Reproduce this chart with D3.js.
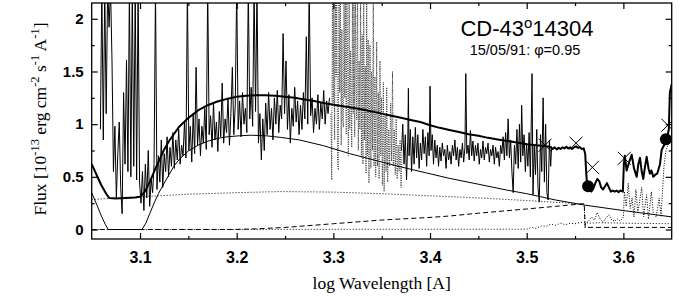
<!DOCTYPE html>
<html><head><meta charset="utf-8">
<script src="https://cdn.jsdelivr.net/npm/d3@7"></script>
<style>body{margin:0;background:#fff}</style>
</head><body>
<svg id="c" width="693" height="297"></svg>
<script>
// ---------- data (log wavelength, flux 1e-13) ----------
const xTicks = [3.1, 3.2, 3.3, 3.4, 3.5, 3.6];
const xMinor = [3.15, 3.25, 3.35, 3.45, 3.55];
const yTicks = [0, 0.5, 1, 1.5, 2];
const yMinor = [0.25, 0.75, 1.25, 1.75];
const titleMain = "CD-43";
const titleSup = "o";
const titleEnd = "14304";
const subTitle = "15/05/91: \u03c6=0.95";

// observed spectrum, short-wavelength part (solid)
const obsShort = [[3.0590,0.95],[3.0605,2.3],[3.0620,0.85],[3.0635,2.3],[3.0650,1.10],[3.0665,2.3],[3.0680,1.92],[3.0695,2.3],[3.0710,1.60],[3.0725,0.55],
[3.0740,0.98],[3.0755,0.30],[3.0770,0.72],[3.0785,1.02],[3.0800,0.40],[3.0815,0.15],[3.0830,1.30],[3.0845,0.62],[3.0860,1.61],[3.0875,0.55],
[3.0890,2.3],[3.0905,0.50],[3.0920,2.3],[3.0935,0.60],[3.0950,2.3],[3.0965,0.47],[3.0980,2.3],[3.0995,0.45],[3.1010,0.25],[3.1025,0.55],
[3.1040,0.18],[3.1055,0.62],[3.1070,0.30],[3.1085,0.75],[3.1100,0.22],[3.1115,0.48],[3.1130,0.35],[3.1145,0.62],[3.1160,2.3],[3.1175,0.38],
[3.1190,0.70],[3.1205,0.45],[3.1220,0.85],[3.1235,0.40],[3.1250,0.72],[3.1265,0.55],[3.1280,0.88],[3.1295,0.50],[3.1310,0.78],[3.1325,0.60],
[3.1340,0.92],[3.1355,0.58],[3.1370,0.85],[3.1385,0.66],[3.1400,0.95],[3.1415,0.62],[3.1430,0.80],[3.1445,0.70],[3.1460,1.02],[3.1475,0.68],
[3.1490,2.3],[3.1505,0.75],[3.1520,0.98],[3.1535,0.64],[3.1550,1.10],[3.1565,0.72],[3.1580,1.54],[3.1595,0.80],[3.1610,1.05],[3.1625,0.70],
[3.1640,0.98],[3.1655,0.82],[3.1670,1.15],[3.1685,0.76],[3.1700,2.3],[3.1715,0.90],[3.1730,1.08],[3.1745,0.78],[3.1760,1.20],[3.1775,0.85],
[3.1790,1.02],[3.1805,0.74],[3.1820,1.12],[3.1835,0.88],[3.1850,1.39],[3.1865,0.82],[3.1880,1.05],[3.1895,0.92],[3.1910,1.25],[3.1925,0.80],
[3.1940,1.10],[3.1955,1.54],[3.1970,0.90],[3.1985,1.18],[3.2000,2.3],[3.2015,0.95],[3.2030,1.22],[3.2045,0.88],[3.2060,1.30],[3.2075,1.00],
[3.2090,1.15],[3.2105,0.92],[3.2120,2.3],[3.2135,1.05],[3.2150,1.35],[3.2165,0.98],[3.2180,2.3],[3.2195,1.12],[3.2210,2.3],[3.2225,0.82],
[3.2240,1.10],[3.2255,0.66],[3.2270,1.05],[3.2285,0.75],[3.2300,1.20],[3.2315,0.90],[3.2330,1.30],[3.2345,0.95],[3.2360,1.15],[3.2375,0.85],
[3.2390,1.25],[3.2405,1.00],[3.2420,1.32],[3.2435,0.92],[3.2450,1.18],[3.2465,1.05],[3.2480,1.86],[3.2495,1.10],[3.2510,1.60],[3.2525,0.95],
[3.2540,1.28],[3.2555,0.82],[3.2570,1.15],[3.2585,0.98],[3.2600,1.35],[3.2615,1.02],[3.2630,1.22],[3.2645,0.90],[3.2660,1.18],[3.2675,0.95],
[3.2690,1.30],[3.2705,1.05],[3.2720,1.83],[3.2735,1.00],[3.2750,2.3],[3.2765,1.08],[3.2780,1.25],[3.2795,0.92],[3.2810,1.15],[3.2825,1.00],
[3.2840,1.28],[3.2855,0.95],[3.2870,1.20],[3.2885,1.05],[3.2900,1.32],[3.2915,1.00],[3.2930,1.22],[3.2945,1.10],[3.2960,1.25]];

// observed spectrum, overlap region (dotted)
const obsOverlap = [[3.2975,1.10],[3.2983,0.47],[3.2990,2.3],[3.2998,1.20],[3.3005,2.3],[3.3013,0.85],[3.3020,2.3],[3.3028,1.45],[3.3035,2.3],[3.3043,0.65],
[3.3051,0.565],[3.3058,2.3],[3.3066,1.30],[3.3073,2.3],[3.3081,0.80],[3.3088,1.90],[3.3096,1.05],[3.3103,0.97],[3.3110,2.3],[3.3118,1.25],
[3.3125,2.3],[3.3133,0.90],[3.3140,2.3],[3.3148,1.50],[3.3155,0.70],[3.3163,2.3],[3.3170,0.95],[3.3178,1.70],[3.3190,0.78],[3.3198,2.3],
[3.3206,1.10],[3.3213,2.3],[3.3221,0.88],[3.3228,2.3],[3.3236,1.40],[3.3241,1.04],[3.3250,2.3],[3.3258,0.75],[3.3266,1.60],[3.3274,0.95],
[3.3282,2.3],[3.3290,0.68],[3.3298,1.85],[3.3306,0.62],[3.3314,2.3],[3.3322,0.85],[3.3330,1.55],[3.3338,0.53],[3.3345,2.3],[3.3352,0.70],
[3.3360,1.80],[3.3368,0.44],[3.3379,1.75],[3.3388,0.58],[3.3396,1.50],[3.3405,0.75],[3.3413,2.3],[3.3421,0.60],[3.3430,1.45],[3.3438,0.50],
[3.3448,1.78],[3.3456,0.60],[3.3465,1.30],[3.3473,0.48],[3.3482,1.60],[3.3490,0.70],[3.3498,1.25],[3.3507,0.42],[3.3517,1.40],[3.3525,0.36],
[3.3535,1.10],[3.3545,0.55],[3.3552,1.35],[3.3562,0.45],[3.3572,0.95],[3.3582,0.60],[3.3592,1.20],[3.3602,0.65],[3.3612,1.50],[3.3620,0.60],
[3.3630,0.95],[3.3640,0.52],[3.3650,1.05],[3.3660,0.48],[3.3670,0.80],[3.3680,0.55],[3.3690,0.85],[3.3700,0.40],[3.3710,0.75]];

// observed spectrum, long-wavelength part (solid)
const obsLong = [[3.3705,0.75],[3.3718,1.00],[3.3731,0.62],[3.3744,0.90],[3.3757,0.47],[3.3770,0.85],[3.3776,1.34],[3.3783,0.70],[3.3796,0.95],[3.3809,0.55],
[3.3822,0.88],[3.3835,0.62],[3.3848,0.97],[3.3861,0.68],[3.3874,0.90],[3.3887,0.58],[3.3900,0.82],[3.3913,0.66],[3.3926,0.95],[3.3939,0.72],
[3.3952,0.88],[3.3965,0.60],[3.3978,0.92],[3.3991,0.70],[3.4000,1.36],[3.4010,0.75],[3.4023,0.90],[3.4036,0.62],[3.4049,0.85],[3.4062,0.68],
[3.4075,0.80],[3.4088,0.60],[3.4101,0.78],[3.4114,0.65],[3.4127,0.82],[3.4140,0.70],[3.4153,0.76],[3.4166,0.58],[3.4179,0.80],[3.4192,0.66],
[3.4205,0.74],[3.4218,0.62],[3.4231,0.80],[3.4244,0.70],[3.4257,0.85],[3.4270,0.66],[3.4283,0.78],[3.4296,0.60],[3.4309,0.76],[3.4322,0.68],
[3.4335,0.82],[3.4348,0.64],[3.4361,0.78],[3.4370,1.48],[3.4380,0.72],[3.4393,0.80],[3.4405,0.66],[3.4418,0.94],[3.4431,0.70],[3.4444,0.84],
[3.4457,0.65],[3.4470,0.80],[3.4483,0.70],[3.4496,0.82],[3.4509,0.62],[3.4522,0.76],[3.4535,0.68],[3.4548,0.84],[3.4561,0.66],[3.4574,0.78],
[3.4587,0.72],[3.4600,0.82],[3.4613,0.64],[3.4626,0.76],[3.4639,0.70],[3.4652,0.80],[3.4665,0.62],[3.4678,0.78],[3.4691,0.68],[3.4704,0.74],
[3.4717,0.60],[3.4730,0.80],[3.4743,0.72],[3.4756,0.88],[3.4769,0.66],[3.4782,0.92],[3.4795,0.70],[3.4808,1.05],[3.4821,0.68],[3.4834,0.85],
[3.4847,0.55],[3.4860,0.35],[3.4873,0.80],[3.4886,0.62],[3.4899,0.95],[3.4912,0.58],[3.4925,1.00],[3.4938,0.64],[3.4948,1.18],[3.4960,0.70],
[3.4973,0.90],[3.4986,0.55],[3.4999,0.82],[3.5012,0.60],[3.5025,0.92],[3.5038,0.50],[3.5055,1.48],[3.5065,0.33],[3.5078,0.80],[3.5091,0.52],
[3.5104,0.95],[3.5117,0.40],[3.5130,0.26],[3.5143,0.90],[3.5156,0.55],[3.5170,1.25],[3.5183,0.45],[3.5196,1.00],[3.5209,0.35],[3.5222,0.28],
[3.5235,0.85],[3.5248,0.60],[3.5258,0.79]];

// total model (thick)
const modelTotal = [[3.050,0.62],[3.055,0.52],[3.060,0.42],[3.065,0.34],[3.068,0.30],[3.075,0.295],[3.085,0.30],[3.095,0.305],[3.100,0.31],[3.105,0.36],
[3.110,0.45],[3.115,0.56],[3.120,0.66],[3.125,0.76],[3.130,0.84],[3.140,0.97],[3.150,1.06],[3.160,1.13],[3.170,1.18],[3.180,1.215],
[3.190,1.24],[3.200,1.26],[3.210,1.27],[3.220,1.275],[3.230,1.275],[3.240,1.27],[3.250,1.26],[3.260,1.25],[3.270,1.235],[3.280,1.22],
[3.290,1.20],[3.300,1.185],[3.310,1.17],[3.320,1.155],[3.330,1.14],[3.340,1.12],[3.350,1.10],[3.360,1.08],[3.370,1.06],[3.380,1.04],
[3.390,1.02],[3.400,0.99],[3.410,0.965],[3.420,0.945],[3.430,0.925],[3.440,0.905],[3.450,0.89],[3.460,0.87],[3.470,0.855],[3.480,0.84],
[3.490,0.825],[3.500,0.81],[3.510,0.80],[3.520,0.79],[3.524,0.785],[3.527,0.765],[3.529,0.78],[3.531,0.76],[3.533,0.775],[3.535,0.765],
[3.537,0.78],[3.539,0.77],[3.541,0.785],[3.543,0.77],[3.545,0.78],[3.547,0.765],[3.549,0.78],[3.551,0.79],[3.553,0.775],[3.555,0.78],
[3.557,0.765],[3.559,0.77],[3.5605,0.72],[3.5615,0.55],[3.5625,0.42],[3.5635,0.40],[3.565,0.38],[3.567,0.36],[3.569,0.39],[3.571,0.44],
[3.573,0.48],[3.575,0.46],[3.577,0.40],[3.579,0.38],[3.581,0.41],[3.583,0.44],[3.585,0.40],[3.587,0.36],[3.589,0.37],[3.591,0.36],
[3.593,0.37],[3.595,0.355],[3.597,0.37],[3.5995,0.36],[3.6005,0.62],[3.6015,0.70],[3.6034,0.56],[3.606,0.64],[3.6086,0.71],[3.611,0.58],
[3.6138,0.50],[3.6155,0.62],[3.6172,0.68],[3.619,0.55],[3.6206,0.48],[3.6224,0.60],[3.6241,0.69],[3.626,0.58],[3.6275,0.53],[3.629,0.56],
[3.631,0.50],[3.633,0.52],[3.635,0.53],[3.6379,0.62],[3.6396,0.755],[3.642,0.80],[3.6448,0.85],[3.647,0.95],[3.6481,1.30],[3.650,1.38]];

// hot component (thin)
const modelHot = [[3.050,0.35],[3.055,0.24],[3.060,0.13],[3.064,0.05],[3.067,0.0],[3.102,0.0],[3.106,0.06],[3.110,0.15],[3.115,0.26],[3.119,0.34],
[3.125,0.44],[3.130,0.52],[3.135,0.60],[3.141,0.67],[3.150,0.745],[3.160,0.80],[3.169,0.835],[3.180,0.865],[3.190,0.88],[3.203,0.89],
[3.214,0.895],[3.230,0.89],[3.245,0.875],[3.265,0.85],[3.290,0.795],[3.317,0.72],[3.340,0.665],[3.369,0.596],[3.395,0.54],[3.420,0.486],
[3.450,0.43],[3.479,0.375],[3.500,0.34],[3.530,0.28],[3.559,0.233],[3.600,0.18],[3.650,0.12]];

// nebular continuum (dotted)
const modelNeb = [[3.050,0.285],[3.100,0.31],[3.150,0.335],[3.200,0.35],[3.245,0.36],[3.300,0.355],[3.350,0.34],[3.400,0.32],[3.450,0.30],[3.500,0.275],[3.5595,0.242],[3.5605,0.0]];

// cool star spectrum (dotted)
const modelCool = [[3.5605,0.05],[3.564,0.08],[3.567,0.12],[3.570,0.09],[3.573,0.16],[3.576,0.10],[3.579,0.07],[3.582,0.11],[3.585,0.14],[3.588,0.09],
[3.591,0.08],[3.594,0.10],[3.597,0.08],[3.600,0.12],[3.601,0.36],[3.603,0.22],[3.605,0.44],[3.607,0.20],[3.609,0.30],[3.611,0.12],
[3.613,0.38],[3.615,0.15],[3.617,0.28],[3.619,0.40],[3.621,0.12],[3.624,0.33],[3.626,0.10],[3.629,0.36],[3.631,0.15],[3.634,0.12],
[3.637,0.30],[3.639,0.12],[3.642,0.60],[3.644,0.75],[3.646,0.80],[3.650,0.85]];

// low dotted component
const modelLow = [[3.050,0.0],[3.500,0.003],[3.505,0.02],[3.510,0.01],[3.515,0.035],[3.520,0.03],[3.525,0.05],[3.530,0.04],[3.535,0.06],[3.540,0.045],
[3.545,0.06],[3.550,0.055],[3.555,0.065],[3.560,0.07],[3.565,0.06],[3.575,0.065],[3.600,0.06],[3.650,0.055]];

// dashed component
const modelDash = [[3.050,0.0],[3.195,0.0],[3.220,0.006],[3.250,0.02],[3.300,0.055],[3.350,0.09],[3.400,0.115],[3.420,0.128],[3.450,0.155],[3.500,0.195],
[3.530,0.22],[3.5595,0.245],[3.5605,0.02],[3.650,0.02]];

// photometry
const photCircles = [[3.5635,0.41],[3.644,0.856]];
const photCrosses = [[3.519,0.80],[3.551,0.82],[3.568,0.59],[3.601,0.676],[3.646,0.99]];

// ---------- drawing ----------
const svg = d3.select("#c");
const L = 91.7, R = 671.7, T = 3, B = 239;
const x = d3.scaleLinear().domain([3.05, 3.65]).range([L, R]);
const y = d3.scaleLinear().domain([-0.09, 2.15]).range([B, T]);

svg.append("defs").append("clipPath").attr("id","clip")
  .append("rect").attr("x",L).attr("y",T).attr("width",R-L).attr("height",B-T);

const g = svg.append("g").attr("clip-path","url(#clip)");
const line = d3.line().x(d=>x(d[0])).y(d=>y(d[1]));

function draw(data, w, dash, color){
  g.append("path").attr("d", line(data)).attr("fill","none")
   .attr("stroke", color||"#000").attr("stroke-width", w)
   .attr("stroke-dasharray", dash||null).attr("stroke-linejoin","round");
}
draw(modelLow, 1, "1,2");
draw(modelDash, 1, "5,3");
draw(modelNeb, 1, "1,2");
draw(modelCool, 1, "1,1.5");
draw(obsOverlap, 1, "1,1.3", "#333");
draw(obsShort, 1);
draw(obsLong, 1);
draw(modelHot, 1);
draw(modelTotal, 2);

g.selectAll("circle.p").data(photCircles).join("circle")
  .attr("cx",d=>x(d[0])).attr("cy",d=>y(d[1])).attr("r",6).attr("fill","#000");
const cs = 6.5;
const cr = g.selectAll("g.cr").data(photCrosses).join("g")
  .attr("transform",d=>`translate(${x(d[0])},${y(d[1])})`);
cr.append("path").attr("d",`M${-cs},${-cs}L${cs},${cs}M${-cs},${cs}L${cs},${-cs}`)
  .attr("stroke","#000").attr("stroke-width",1).attr("fill","none");

// axes
function styleAxis(sel){ sel.select(".domain").remove(); sel.selectAll("line").attr("stroke","#000").attr("stroke-width",1.2); }
const tickFont = "Liberation Sans, Arial, sans-serif";

const ax = svg.append("g").attr("transform",`translate(0,${B})`)
  .call(d3.axisBottom(x).tickValues(xTicks).tickSize(-6).tickPadding(12.5).tickFormat(d3.format(".1f")));
styleAxis(ax);
ax.selectAll("text").attr("font-family",tickFont).attr("font-size",16).attr("font-weight","bold").attr("fill","#000");
svg.append("g").attr("transform",`translate(0,${B})`)
  .call(d3.axisBottom(x).tickValues(xMinor).tickSize(-3).tickFormat("")).call(styleAxis);
svg.append("g").attr("transform",`translate(0,${T})`)
  .call(d3.axisTop(x).tickValues(xTicks).tickSize(-6).tickFormat("")).call(styleAxis);
svg.append("g").attr("transform",`translate(0,${T})`)
  .call(d3.axisTop(x).tickValues(xMinor).tickSize(-3).tickFormat("")).call(styleAxis);

const ay = svg.append("g").attr("transform",`translate(${L},0)`)
  .call(d3.axisLeft(y).tickValues(yTicks).tickSize(-6).tickPadding(8).tickFormat(d3.format("~g")));
styleAxis(ay);
ay.selectAll("text").attr("font-family",tickFont).attr("font-size",15).attr("font-weight","bold").attr("fill","#000");
svg.append("g").attr("transform",`translate(${L},0)`)
  .call(d3.axisLeft(y).tickValues(yMinor).tickSize(-3).tickFormat("")).call(styleAxis);
svg.append("g").attr("transform",`translate(${R},0)`)
  .call(d3.axisRight(y).tickValues(yTicks).tickSize(-6).tickFormat("")).call(styleAxis);
svg.append("g").attr("transform",`translate(${R},0)`)
  .call(d3.axisRight(y).tickValues(yMinor).tickSize(-3).tickFormat("")).call(styleAxis);

svg.append("rect").attr("x",L).attr("y",T).attr("width",R-L).attr("height",B-T)
  .attr("fill","none").attr("stroke","#000").attr("stroke-width",1.3);

// axis titles
const serif = "Liberation Serif, Times New Roman, serif";
svg.append("text").attr("x",(L+R)/2).attr("y",289).attr("text-anchor","middle")
  .attr("font-family",serif).attr("font-size",17.5).text("log Wavelength [A]");

const yt = svg.append("text").attr("transform",`translate(46,${(T+B)/2 - 2}) rotate(-90)`)
  .attr("text-anchor","middle").attr("font-family",serif).attr("font-size",17.5);
const parts = [["Flux [10",0],["-13",1],[" erg cm",0],["-2",1],[" s",0],["-1",1],[" A",0],["-1",1],["]",0]];
let up = false;
parts.forEach(([t,s])=>{
  const ts = yt.append("tspan").text(t);
  if(s && !up){ ts.attr("dy",-7).attr("font-size",12.5); up=true; }
  else if(s){ ts.attr("font-size",12.5); }
  else if(up){ ts.attr("dy",7); up=false; }
});

// title
const tt = svg.append("text").attr("x",527).attr("y",36).attr("text-anchor","middle")
  .attr("font-family",tickFont).attr("font-size",22);
tt.append("tspan").text(titleMain);
tt.append("tspan").attr("dy",-8).attr("font-size",15).text(titleSup);
tt.append("tspan").attr("dy",8).text(titleEnd);
svg.append("text").attr("x",525).attr("y",55).attr("text-anchor","middle")
  .attr("font-family",tickFont).attr("font-size",14.5).text(subTitle);
</script>
</body></html>
